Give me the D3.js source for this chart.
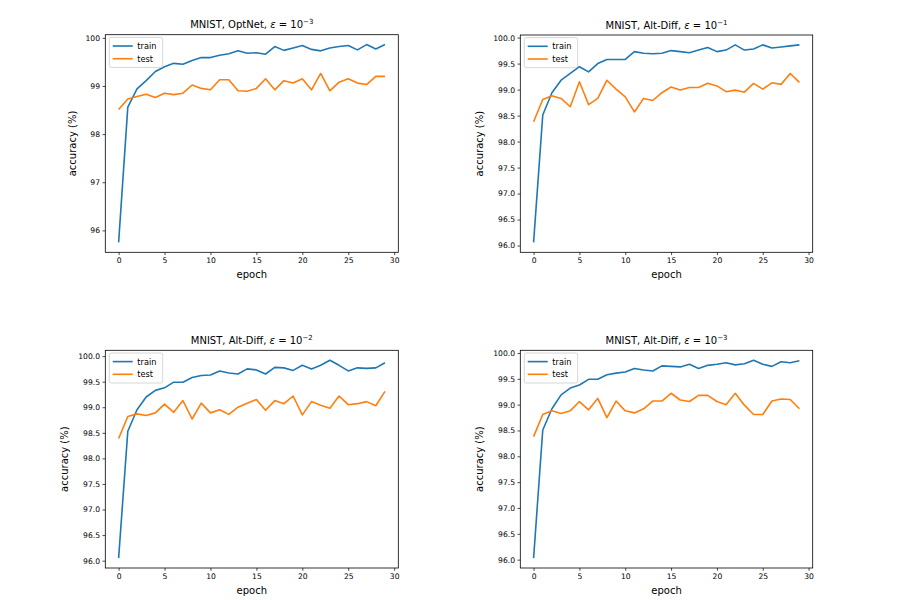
<!DOCTYPE html>
<html><head><meta charset="utf-8">
<script src="https://cdn.jsdelivr.net/npm/d3@7"></script>
<style>
body{margin:0;background:#fff}
svg{display:block}
text{font-family:"DejaVu Sans",sans-serif;fill:#000}
</style>
</head><body><svg id="c" width="909" height="600"></svg>
<script>
const epochs = [0,1,2,3,4,5,6,7,8,9,10,11,12,13,14,15,16,17,18,19,20,21,22,23,24,25,26,27,28,29];
const xTicks = [0,5,10,15,20,25,30];

const titles = [
  {text:"MNIST, OptNet, ", exp:"\u22123"},
  {text:"MNIST, Alt-Diff, ", exp:"\u22121"},
  {text:"MNIST, Alt-Diff, ", exp:"\u22122"},
  {text:"MNIST, Alt-Diff, ", exp:"\u22123"}
];
const seriesNames = ["train","test"];

const optnet3Train = [95.75,98.56,98.94,99.11,99.30,99.40,99.47,99.45,99.53,99.59,99.59,99.64,99.67,99.73,99.68,99.69,99.66,99.82,99.74,99.79,99.84,99.76,99.73,99.79,99.82,99.84,99.75,99.86,99.77,99.86];
const optnet3Test  = [98.51,98.73,98.78,98.83,98.76,98.85,98.82,98.85,99.02,98.95,98.92,99.13,99.13,98.90,98.89,98.95,99.15,98.92,99.11,99.06,99.15,98.92,99.26,98.90,99.08,99.15,99.06,99.03,99.20,99.20];

const altdiff1Train = [96.06,98.51,98.94,99.18,99.31,99.44,99.34,99.50,99.58,99.58,99.58,99.73,99.70,99.69,99.70,99.75,99.73,99.71,99.76,99.81,99.73,99.76,99.86,99.76,99.78,99.86,99.80,99.82,99.84,99.86];
const altdiff1Test  = [98.38,98.81,98.88,98.83,98.67,99.15,98.71,98.83,99.18,99.01,98.86,98.57,98.83,98.79,98.94,99.05,98.99,99.04,99.04,99.12,99.07,98.96,98.99,98.95,99.12,99.01,99.13,99.10,99.31,99.14];

const altdiff2Train = [96.05,98.53,98.95,99.20,99.33,99.38,99.49,99.49,99.58,99.62,99.63,99.71,99.67,99.65,99.75,99.73,99.65,99.78,99.77,99.72,99.82,99.75,99.82,99.92,99.82,99.71,99.77,99.76,99.77,99.87];
const altdiff2Test  = [98.39,98.82,98.87,98.84,98.89,99.06,98.90,99.13,98.77,99.08,98.89,98.95,98.86,99.00,99.08,99.15,98.94,99.13,99.07,99.22,98.85,99.11,99.04,98.98,99.22,99.05,99.07,99.11,99.03,99.31];

const altdiff3Train = [96.03,98.51,98.92,99.19,99.32,99.38,99.49,99.49,99.58,99.61,99.63,99.70,99.67,99.65,99.75,99.74,99.73,99.78,99.70,99.76,99.78,99.81,99.77,99.79,99.86,99.78,99.74,99.83,99.81,99.85];
const altdiff3Test  = [98.38,98.81,98.88,98.83,98.88,99.06,98.90,99.12,98.75,99.07,98.88,98.84,98.92,99.07,99.07,99.22,99.09,99.06,99.18,99.18,99.06,99.00,99.22,98.99,98.81,98.81,99.07,99.11,99.10,98.92];

const yTicksInt  = [96,97,98,99,100];
const yTicksHalf = [96.0,96.5,97.0,97.5,98.0,98.5,99.0,99.5,100.0];

const seriesData = [
  [optnet3Train, optnet3Test],
  [altdiff1Train, altdiff1Test],
  [altdiff2Train, altdiff2Test],
  [altdiff3Train, altdiff3Test]
];
const yTickSets = [yTicksInt, yTicksHalf, yTicksHalf, yTicksHalf];
const yFormats = ["d", ".1f", ".1f", ".1f"];

// layout (pixels)
const boxes = [
  {l:105.3, t:34.7, r:398.3, b:252.3},
  {l:520.3, t:35.0, r:812.7, b:252.3},
  {l:105.3, t:350.3, r:398.3, b:568.0},
  {l:520.3, t:350.3, r:812.7, b:568.0}
];
const colors = ["#1f77b4", "#ff7f0e"];
const svg = d3.select("#c");

boxes.forEach((bx, i) => {
  const [train, test] = seriesData[i];
  const all = train.concat(test);
  const lo = d3.min(all), hi = d3.max(all);
  const pad = (hi - lo) * 0.05;
  const x = d3.scaleLinear().domain([d3.min(epochs) - 1.45, d3.max(epochs) + 1.45]).range([bx.l, bx.r]);
  const y = d3.scaleLinear().domain([lo - pad, hi + pad]).range([bx.b, bx.t]);
  const g = svg.append("g");

  // lines
  const line = d3.line().x((d, j) => x(epochs[j])).y(d => y(d));
  [train, test].forEach((s, k) => {
    g.append("path").datum(s).attr("d", line)
      .attr("fill", "none").attr("stroke", colors[k]).attr("stroke-width", 1.6)
      .attr("stroke-linejoin", "round").attr("stroke-linecap", "butt");
  });

  // axes
  const fs = 7.6;
  const xa = g.append("g").attr("transform", `translate(0,${bx.b})`)
    .call(d3.axisBottom(x).tickValues(xTicks).tickFormat(d3.format("d")).tickSize(2.8).tickPadding(2.5));
  const ya = g.append("g").attr("transform", `translate(${bx.l},0)`)
    .call(d3.axisLeft(y).tickValues(yTickSets[i]).tickFormat(d3.format(yFormats[i])).tickSize(2.8).tickPadding(2.5));
  [xa, ya].forEach(a => {
    a.select(".domain").remove();
    a.selectAll("line").attr("stroke", "#000").attr("stroke-width", 0.7);
    a.selectAll("text").attr("font-size", fs).attr("font-family", "DejaVu Sans").attr("fill", "#222");
  });

  // frame
  g.append("rect").attr("x", bx.l).attr("y", bx.t).attr("width", bx.r - bx.l).attr("height", bx.b - bx.t)
    .attr("fill", "none").attr("stroke", "#000").attr("stroke-width", 0.8);

  // x label
  g.append("text").attr("x", (bx.l + bx.r) / 2).attr("y", bx.b + 25.5)
    .attr("text-anchor", "middle").attr("font-size", 10).text("epoch");

  // y label (bbox is in the axis group's local coordinates)
  const tb = ya.node().getBBox();
  const lx = bx.l + tb.x - 10;
  const ly = (bx.t + bx.b) / 2;
  g.append("text").attr("transform", `translate(${lx},${ly}) rotate(-90)`)
    .attr("text-anchor", "middle").attr("font-size", 10).text("accuracy (%)");

  // title
  const tt = g.append("text").attr("x", (bx.l + bx.r) / 2).attr("y", bx.t - 6.3)
    .attr("text-anchor", "middle").attr("font-size", 10);
  tt.append("tspan").text(titles[i].text);
  tt.append("tspan").attr("font-style", "italic").text("\u03b5");
  tt.append("tspan").text(" = 10");
  tt.append("tspan").attr("font-size", 7).attr("dy", -4).text(titles[i].exp);

  // legend
  const lg = g.append("g").attr("transform", `translate(${bx.l + 4},${bx.t + 2.7})`);
  lg.append("rect").attr("width", 53.4).attr("height", 30).attr("rx", 2)
    .attr("fill", "#fff").attr("fill-opacity", 0.8).attr("stroke", "#ccc").attr("stroke-width", 0.8);
  seriesNames.forEach((n, k) => {
    const cy = 8.6 + k * 12.7;
    lg.append("line").attr("x1", 3.4).attr("x2", 23.4).attr("y1", cy).attr("y2", cy)
      .attr("stroke", colors[k]).attr("stroke-width", 1.6);
    lg.append("text").attr("x", 28).attr("y", cy + 3).attr("font-size", 8.2).text(n);
  });
});
</script>
</body></html>
